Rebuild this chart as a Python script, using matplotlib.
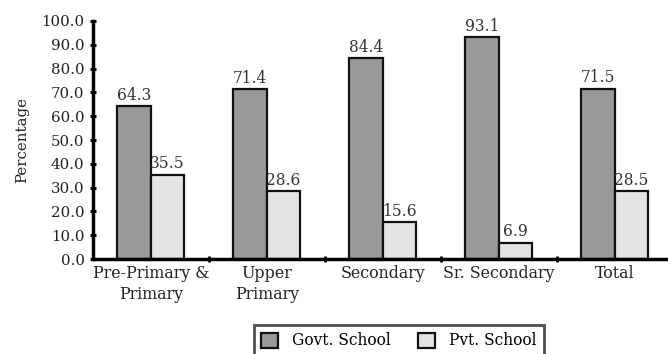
import numpy as np
import matplotlib
matplotlib.use("Agg")
import matplotlib.pyplot as plt

# school-type share by level of education
levels = ["Pre-Primary &\nPrimary", "Upper\nPrimary", "Secondary", "Sr. Secondary", "Total"]
govt = [64.3, 71.4, 84.4, 93.1, 71.5]
pvt = [35.5, 28.6, 15.6, 6.9, 28.5]

plt.rcParams["font.family"] = ["DejaVu Serif"]
plt.rcParams["font.size"] = 10.8

fig = plt.figure(figsize=(6.68, 3.54), dpi=100)
ax = fig.add_axes([0.139, 0.268, 0.868, 0.673])

x = np.arange(len(levels))
w = 0.29
b1 = ax.bar(x - w / 2, govt, w, color="#999999", edgecolor="#111111", linewidth=1.6,
            label="Govt. School")
b2 = ax.bar(x + w / 2, pvt, w, color="#e4e4e4", edgecolor="#111111", linewidth=1.6,
            label="Pvt. School")

for bars, vals in ((b1, govt), (b2, pvt)):
    for r, v in zip(bars, vals):
        ax.text(r.get_x() + r.get_width() / 2, v + 1.0, f"{v:.1f}",
                ha="center", va="bottom", color="#333333", fontsize=11.2)

ax.set_xlim(-0.5, len(levels) - 0.5)
ax.set_ylim(0, 100)
ax.set_yticks(np.arange(0, 101, 10))
ax.set_yticklabels([f"{t:.1f}" for t in range(0, 101, 10)], color="#222222")
ax.set_xticks(x)
ax.set_xticklabels(levels, color="#222222", linespacing=1.3, fontsize=11.4)
ax.tick_params(axis="x", length=0, pad=4)
ax.set_xticks(np.arange(0.5, len(levels) - 0.5), minor=True)
ax.tick_params(axis="x", which="minor", length=4, width=2, direction="inout")
ax.tick_params(axis="y", length=4, width=2, direction="inout", pad=4)

for s in ("top", "right"):
    ax.spines[s].set_visible(False)
for s in ("left", "bottom"):
    ax.spines[s].set_linewidth(2.5)
    ax.spines[s].set_color("black")

ax.set_ylabel("Percentage", color="#222222")
ax.yaxis.set_label_coords(-0.11, 0.5)

leg = fig.legend(handles=[b1, b2], loc="lower center", bbox_to_anchor=(0.597, -0.022),
                 ncol=2, frameon=True, fancybox=False, edgecolor="#222222",
                 fontsize=11.2, handlelength=1.1, handleheight=1.1, columnspacing=1.7,
                 handletextpad=0.9, borderpad=0.5, borderaxespad=0.3)
leg.get_frame().set_linewidth(2)

fig.savefig("out.png", dpi=100)
